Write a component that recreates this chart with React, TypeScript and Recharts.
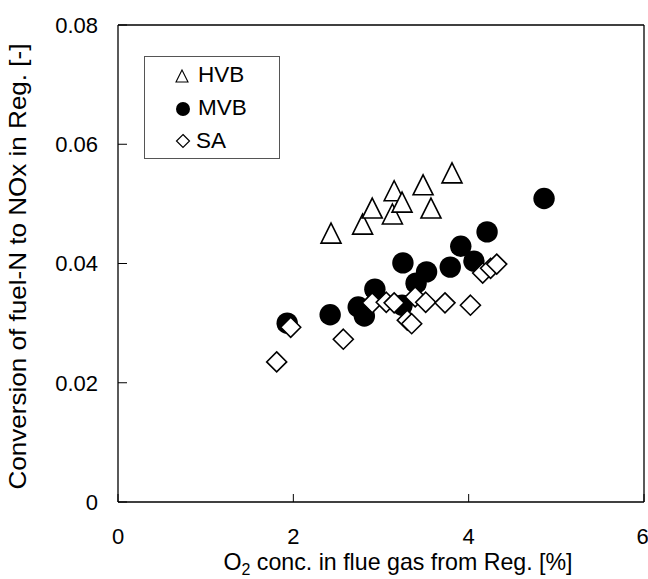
import React from 'react';
import { ScatterChart, Scatter, XAxis, YAxis, ReferenceLine, Legend, Label } from 'recharts';

const FONT = '"Liberation Sans", Arial, sans-serif';

// HVB (open triangles)
const hvbO2 = [2.43, 2.79, 2.9, 3.13, 3.15, 3.24, 3.48, 3.57, 3.81];
const hvbConv = [0.0451, 0.0466, 0.0493, 0.0483, 0.0522, 0.0503, 0.0532, 0.0493, 0.0552];

// MVB (filled circles)
const mvbO2 = [1.93, 2.42, 2.74, 2.81, 2.93, 3.24, 3.25, 3.4, 3.52, 3.79, 3.91, 4.06, 4.21, 4.86];
const mvbConv = [0.03, 0.0314, 0.0327, 0.0312, 0.0357, 0.033, 0.0401, 0.0367, 0.0386, 0.0394, 0.0429, 0.0404, 0.0453, 0.0509];

// SA (open diamonds)
const saO2 = [1.81, 1.97, 2.57, 2.9, 3.06, 3.15, 3.3, 3.35, 3.39, 3.51, 3.73, 4.02, 4.16, 4.25, 4.32];
const saConv = [0.0235, 0.0293, 0.0273, 0.0334, 0.0335, 0.0334, 0.0305, 0.0299, 0.0344, 0.0335, 0.0334, 0.033, 0.0384, 0.0392, 0.0399];

const xTicks = [0, 2, 4, 6];
const yTicks = [0, 0.02, 0.04, 0.06, 0.08];

const legendNames = ['HVB', 'MVB', 'SA'];

const toPoints = (xs: number[], ys: number[]) => xs.map((x, i) => ({ x, y: ys[i] }));

const TriangleShape = (props: any) => {
  const { cx, cy } = props;
  const h = 10;
  return (
    <path
      d={`M${cx},${cy - h}L${cx + h},${cy + h}L${cx - h},${cy + h}Z`}
      fill="#fff"
      stroke="#000"
      strokeWidth={1.6}
    />
  );
};

const CircleShape = (props: any) => {
  const { cx, cy } = props;
  return <circle cx={cx} cy={cy} r={10.7} fill="#000" stroke="none" />;
};

const DiamondShape = (props: any) => {
  const { cx, cy } = props;
  const h = 10;
  return (
    <path
      d={`M${cx},${cy - h}L${cx + h},${cy}L${cx},${cy + h}L${cx - h},${cy}Z`}
      fill="#fff"
      stroke="#000"
      strokeWidth={1.6}
    />
  );
};

const LegendBox = () => {
  const rows = [20, 53, 85];
  const baselines = [26, 59, 92];
  return (
    <svg width={136} height={103} style={{ display: 'block' }}>
      <rect x={0.5} y={0.5} width={135} height={102} fill="#fff" stroke="#555" strokeWidth={1} />
      <path d={`M38,${rows[0] - 6}L44,${rows[0] + 6}L32,${rows[0] + 6}Z`} fill="#fff" stroke="#000" strokeWidth={1.1} />
      <circle cx={39} cy={rows[1]} r={7} fill="#000" />
      <path d={`M39,${rows[2] - 6.5}L45.5,${rows[2]}L39,${rows[2] + 6.5}L32.5,${rows[2]}Z`} fill="#fff" stroke="#000" strokeWidth={1.2} />
      {legendNames.map((n, i) => (
        <text key={n} x={i === 2 ? 52 : 54} y={baselines[i]} fontSize={22.5} fontFamily={FONT} fill="#000">
          {n}
        </text>
      ))}
    </svg>
  );
};

const YTitle = (props: any) => {
  const vb = props.viewBox || { x: 0, y: 25, width: 118, height: 477 };
  const cy = vb.y + vb.height / 2 + 3;
  const bx = 26;
  return (
    <text
      transform={`translate(${bx},${cy}) rotate(-90)`}
      textAnchor="middle"
      fontSize={24}
      fontFamily={FONT}
      fill="#000"
      textLength={446}
      lengthAdjust="spacingAndGlyphs"
    >
      Conversion of fuel-N to NOx in Reg. [-]
    </text>
  );
};

const XTitle = (props: any) => {
  const vb = props.viewBox || { x: 118, y: 502, width: 526, height: 77 };
  const cx = vb.x + vb.width / 2 + 17;
  return (
    <text x={cx} y={570} textAnchor="middle" fontSize={23.2} fontFamily={FONT} fill="#000">
      O<tspan fontSize={16} dy={5}>2</tspan>
      <tspan dy={-5}> conc. in flue gas from Reg. [%]</tspan>
    </text>
  );
};

const tickStyle = { fill: '#000', fontSize: 22, fontFamily: FONT };

export default function App() {
  return (
    <div style={{ position: 'absolute', left: 0, top: 0, background: '#fff' }}>
      <ScatterChart width={648} height={579} margin={{ top: 25, right: 4, bottom: 0, left: 0 }}>
        <XAxis
          type="number"
          dataKey="x"
          domain={[0, 6]}
          ticks={xTicks}
          height={77}
          tickSize={-8}
          tickMargin={34}
          tick={tickStyle}
          axisLine={{ stroke: '#000', strokeWidth: 1.3 }}
          tickLine={{ stroke: '#000', strokeWidth: 1 }}
          allowDataOverflow
        >
          <Label content={<XTitle />} />
        </XAxis>
        <YAxis
          type="number"
          dataKey="y"
          domain={[0, 0.08]}
          ticks={yTicks}
          width={118}
          tickSize={-9}
          tickMargin={29}
          tick={tickStyle}
          tickFormatter={(v: number) => (v === 0 ? '0' : v.toFixed(2))}
          axisLine={{ stroke: '#000', strokeWidth: 1.3 }}
          tickLine={{ stroke: '#000', strokeWidth: 1 }}
          allowDataOverflow
        >
          <Label content={<YTitle />} />
        </YAxis>
        <ReferenceLine y={0.08} stroke="#000" strokeWidth={1.3} />
        <ReferenceLine x={6} stroke="#000" strokeWidth={1.3} />
        <Legend
          layout="horizontal"
          verticalAlign="middle"
          align="center"
          wrapperStyle={{ position: 'absolute', left: 144, top: 56, width: 136, height: 103 }}
          content={() => <LegendBox />}
        />
        <Scatter name="HVB" data={toPoints(hvbO2, hvbConv)} shape={TriangleShape} isAnimationActive={false} />
        <Scatter name="MVB" data={toPoints(mvbO2, mvbConv)} shape={CircleShape} isAnimationActive={false} />
        <Scatter name="SA" data={toPoints(saO2, saConv)} shape={DiamondShape} isAnimationActive={false} />
      </ScatterChart>
    </div>
  );
}
